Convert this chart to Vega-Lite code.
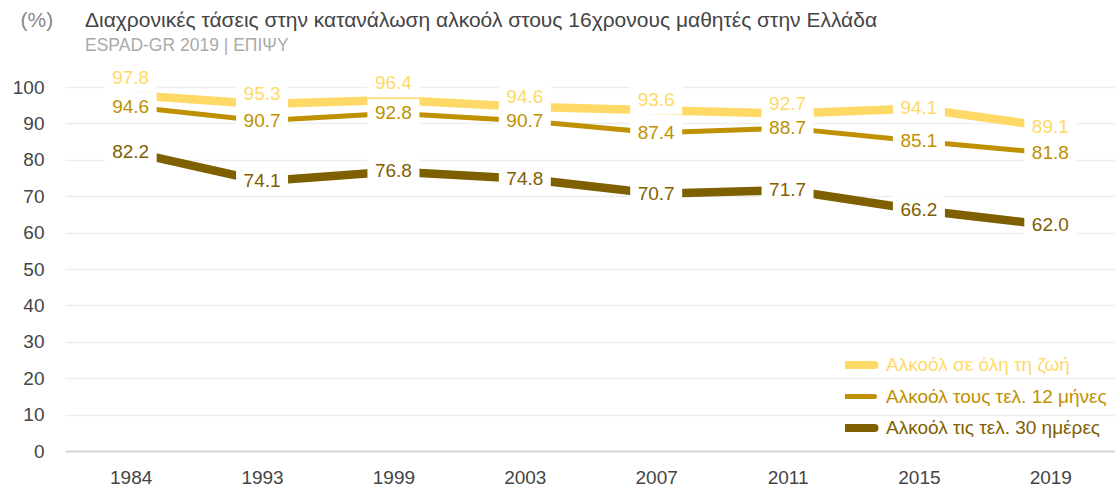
{
  "$schema": "https://vega.github.io/schema/vega-lite/v6.json",
  "width": 1051,
  "height": 364,
  "autosize": {"type": "none"},
  "padding": {"left": 65, "top": 87, "right": 0, "bottom": 35},
  "background": "white",
  "title": {
    "text": "Διαχρονικές τάσεις στην κατανάλωση αλκοόλ στους 16χρονους μαθητές στην Ελλάδα",
    "subtitle": "ESPAD-GR 2019 | ΕΠΙΨΥ",
    "anchor": "start",
    "frame": "group",
    "dx": 20,
    "offset": -45,
    "font": "Liberation Sans",
    "fontSize": 21,
    "fontWeight": "normal",
    "color": "#444444",
    "subtitleFont": "Liberation Sans",
    "subtitleFontSize": 17.5,
    "subtitleColor": "#aaaaaa",
    "subtitlePadding": 6
  },
  "config": {"view": {"stroke": null}, "font": "Liberation Sans"},
  "data": {
    "values": [
      {"year": "1984", "series": "Αλκοόλ σε όλη τη ζωή", "value": 97.8},
      {"year": "1993", "series": "Αλκοόλ σε όλη τη ζωή", "value": 95.3},
      {"year": "1999", "series": "Αλκοόλ σε όλη τη ζωή", "value": 96.4},
      {"year": "2003", "series": "Αλκοόλ σε όλη τη ζωή", "value": 94.6},
      {"year": "2007", "series": "Αλκοόλ σε όλη τη ζωή", "value": 93.6},
      {"year": "2011", "series": "Αλκοόλ σε όλη τη ζωή", "value": 92.7},
      {"year": "2015", "series": "Αλκοόλ σε όλη τη ζωή", "value": 94.1},
      {"year": "2019", "series": "Αλκοόλ σε όλη τη ζωή", "value": 89.1},
      {"year": "1984", "series": "Αλκοόλ τους τελ. 12 μήνες", "value": 94.6},
      {"year": "1993", "series": "Αλκοόλ τους τελ. 12 μήνες", "value": 90.7},
      {"year": "1999", "series": "Αλκοόλ τους τελ. 12 μήνες", "value": 92.8},
      {"year": "2003", "series": "Αλκοόλ τους τελ. 12 μήνες", "value": 90.7},
      {"year": "2007", "series": "Αλκοόλ τους τελ. 12 μήνες", "value": 87.4},
      {"year": "2011", "series": "Αλκοόλ τους τελ. 12 μήνες", "value": 88.7},
      {"year": "2015", "series": "Αλκοόλ τους τελ. 12 μήνες", "value": 85.1},
      {"year": "2019", "series": "Αλκοόλ τους τελ. 12 μήνες", "value": 81.8},
      {"year": "1984", "series": "Αλκοόλ τις τελ. 30 ημέρες", "value": 82.2},
      {"year": "1993", "series": "Αλκοόλ τις τελ. 30 ημέρες", "value": 74.1},
      {"year": "1999", "series": "Αλκοόλ τις τελ. 30 ημέρες", "value": 76.8},
      {"year": "2003", "series": "Αλκοόλ τις τελ. 30 ημέρες", "value": 74.8},
      {"year": "2007", "series": "Αλκοόλ τις τελ. 30 ημέρες", "value": 70.7},
      {"year": "2011", "series": "Αλκοόλ τις τελ. 30 ημέρες", "value": 71.7},
      {"year": "2015", "series": "Αλκοόλ τις τελ. 30 ημέρες", "value": 66.2},
      {"year": "2019", "series": "Αλκοόλ τις τελ. 30 ημέρες", "value": 62.0}
    ]
  },
  "encoding": {
    "x": {
      "field": "year", "type": "ordinal",
      "scale": {"type": "point", "padding": 0.5},
      "axis": {"title": null, "labelAngle": 0, "domain": false, "ticks": false, "grid": false,
               "labelFontSize": 19, "labelColor": "#444444", "labelPadding": 17, "labelFont": "Liberation Sans"}
    },
    "y": {
      "field": "value", "type": "quantitative",
      "scale": {"domain": [0, 100], "nice": false},
      "axis": {
        "title": "(%)", "titleAngle": 0, "titleX": -45, "titleY": -67, "titleAlign": "left",
        "titleBaseline": "middle", "titleFontSize": 21, "titleFontWeight": "normal", "titleColor": "#888888",
        "titleFont": "Liberation Sans",
        "values": [0, 10, 20, 30, 40, 50, 60, 70, 80, 90, 100],
        "domain": false, "ticks": false, "labelPadding": 21, "labelFontSize": 19,
        "labelColor": "#444444", "labelFont": "Liberation Sans",
        "gridColor": {"condition": {"test": "datum.value === 0", "value": "#d4d4d4"}, "value": "#eeeeee"},
        "gridWidth": {"condition": {"test": "datum.value === 0", "value": 2}, "value": 1.5}
      }
    },
    "color": {
      "field": "series", "type": "nominal",
      "scale": {"domain": ["Αλκοόλ σε όλη τη ζωή", "Αλκοόλ τους τελ. 12 μήνες", "Αλκοόλ τις τελ. 30 ημέρες"],
                "range": ["#FFD966", "#BF9000", "#7F6000"]},
      "legend": {
        "orient": "none", "legendX": 780, "legendY": 268, "title": null,
        "symbolType": "stroke", "symbolSize": 1600, "symbolStrokeWidth": 8, "clipHeight": 20,
        "labelFontSize": 19, "labelFont": "Liberation Sans", "rowPadding": 11.5, "labelOffset": 22,
        "labelLimit": 400,
        "encode": {
          "labels": {"update": {"fill": {"scale": "color", "field": "value"}}},
          "symbols": {"update": {
            "strokeWidth": {"signal": "datum.value === 'Αλκοόλ τους τελ. 12 μήνες' ? 5 : 8"},
            "strokeCap": {"value": "round"}
          }}
        }
      }
    }
  },
  "layer": [
    {
      "mark": {"type": "line", "strokeCap": "butt"},
      "encoding": {
        "strokeWidth": {"condition": {"test": "datum.series === 'Αλκοόλ τους τελ. 12 μήνες'", "value": 5}, "value": 8.5}
      }
    },
    {
      "transform": [{"filter": {"and": [{"field": "series", "equal": "Αλκοόλ σε όλη τη ζωή"}, {"field": "year", "oneOf": ["1984", "1999"]}]}}],
      "mark": {"type": "point", "shape": "M-1,-0.55L1,-0.55L1,0.55L-1,0.55Z", "size": 2704, "filled": true, "opacity": 1, "strokeWidth": 0, "yOffset": -17},
      "encoding": {"color": {"value": "white"}}
    },
    {
      "transform": [{"filter": {"and": [{"field": "series", "equal": "Αλκοόλ σε όλη τη ζωή"}, {"field": "year", "oneOf": ["1993", "2003", "2007", "2011"]}]}}],
      "mark": {"type": "point", "shape": "M-1,-0.55L1,-0.55L1,0.55L-1,0.55Z", "size": 2704, "filled": true, "opacity": 1, "strokeWidth": 0, "yOffset": -10},
      "encoding": {"color": {"value": "white"}}
    },
    {
      "transform": [{"filter": {"not": {"and": [{"field": "series", "equal": "Αλκοόλ σε όλη τη ζωή"}, {"field": "year", "oneOf": ["1984", "1993", "1999", "2003", "2007", "2011"]}]}}}],
      "mark": {"type": "point", "shape": "M-1,-0.55L1,-0.55L1,0.55L-1,0.55Z", "size": 2704, "filled": true, "opacity": 1, "strokeWidth": 0, "yOffset": 0},
      "encoding": {"color": {"value": "white"}}
    },
    {
      "transform": [{"filter": {"and": [{"field": "series", "equal": "Αλκοόλ σε όλη τη ζωή"}, {"field": "year", "oneOf": ["1984", "1999"]}]}}],
      "mark": {"type": "text", "fontSize": 19, "font": "Liberation Sans", "yOffset": -17},
      "encoding": {"text": {"field": "value", "type": "quantitative", "format": ".1f"}}
    },
    {
      "transform": [{"filter": {"and": [{"field": "series", "equal": "Αλκοόλ σε όλη τη ζωή"}, {"field": "year", "oneOf": ["1993", "2003", "2007", "2011"]}]}}],
      "mark": {"type": "text", "fontSize": 19, "font": "Liberation Sans", "yOffset": -10},
      "encoding": {"text": {"field": "value", "type": "quantitative", "format": ".1f"}}
    },
    {
      "transform": [{"filter": {"not": {"and": [{"field": "series", "equal": "Αλκοόλ σε όλη τη ζωή"}, {"field": "year", "oneOf": ["1984", "1993", "1999", "2003", "2007", "2011"]}]}}}],
      "mark": {"type": "text", "fontSize": 19, "font": "Liberation Sans", "yOffset": 0},
      "encoding": {"text": {"field": "value", "type": "quantitative", "format": ".1f"}}
    }
  ]
}
